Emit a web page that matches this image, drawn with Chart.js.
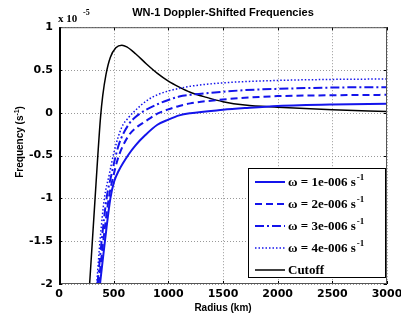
<!DOCTYPE html>
<html>
<head>
<meta charset="utf-8">
<script src="https://cdn.jsdelivr.net/npm/chart.js@4.4.0/dist/chart.umd.min.js"></script>
<style>
  html, body { margin: 0; padding: 0; background: #fff; }
</style>
</head>
<body>
<canvas id="chart-area" width="401" height="320"></canvas>
<script>
// values are in units of 1e-5 s^-1, radius in km
var xTicks = [0, 500, 1000, 1500, 2000, 2500, 3000];
var yTicks = [-2, -1.5, -1, -0.5, 0, 0.5, 1];

var r1 = [375, 420, 470, 505, 545, 635, 700, 790, 900, 1000, 1100, 1200, 1500, 1700, 2000, 2500, 3000];
var w1 = [-2.0, -1.5, -1.0, -0.8, -0.68, -0.49, -0.38, -0.26, -0.14, -0.08, -0.03, -0.005, 0.035, 0.055, 0.08, 0.098, 0.105];

var r2 = [362, 405, 455, 495, 545, 635, 700, 790, 900, 1000, 1100, 1200, 1500, 1700, 2000, 2500, 3000];
var w2 = [-2.0, -1.5, -1.0, -0.75, -0.51, -0.27, -0.18, -0.1, -0.01, 0.04, 0.08, 0.11, 0.155, 0.175, 0.195, 0.205, 0.21];

var r3 = [352, 390, 435, 480, 545, 635, 700, 790, 900, 1000, 1100, 1200, 1500, 1700, 2000, 2500, 3000];
var w3 = [-2.0, -1.5, -1.0, -0.72, -0.38, -0.14, -0.05, 0.03, 0.1, 0.15, 0.19, 0.21, 0.245, 0.265, 0.28, 0.295, 0.30];

var r4 = [345, 375, 415, 460, 505, 570, 640, 700, 800, 900, 1000, 1100, 1200, 1500, 2000, 2500, 3000];
var w4 = [-2.0, -1.5, -1.0, -0.72, -0.45, -0.18, -0.05, 0.03, 0.14, 0.21, 0.255, 0.285, 0.31, 0.35, 0.378, 0.39, 0.395];

var rCut = [280, 300, 330, 355, 380, 400, 430, 470, 520, 575, 620, 700, 800, 900, 1000, 1100, 1200, 1350, 1500, 1700, 2000, 2500, 3000];
var cutoff = [-2.0, -1.6, -1.0, -0.5, -0.05, 0.2, 0.45, 0.65, 0.76, 0.79, 0.77, 0.69, 0.57, 0.46, 0.37, 0.30, 0.24, 0.18, 0.13, 0.09, 0.065, 0.035, 0.015];

var SUP = '\u207b\u00b9';
var labels = ['\u03c9 = 1e-006 s' + SUP, '\u03c9 = 2e-006 s' + SUP, '\u03c9 = 3e-006 s' + SUP, '\u03c9 = 4e-006 s' + SUP, 'Cutoff'];

function pts(xs, ys) {
	return xs.map(function(x, i) { return { x: x, y: ys[i] }; });
}

var BLUE = 'rgb(20,20,235)';
var tickFont = { family: 'DejaVu Sans', size: 11, weight: 'bold' };

function line(label, data, color, width, dash) {
	return {
		label: label,
		data: data,
		borderColor: color,
		borderWidth: width,
		borderDash: dash,
		pointRadius: 0,
		fill: false,
		cubicInterpolationMode: 'monotone'
	};
}

// draws text, turning a trailing "⁻¹" into a raised small "-1"
function supText(ctx, text, x, y, size, family) {
	var main = text, sup = '';
	if (text.slice(-2) === SUP) { main = text.slice(0, -2); sup = '-1'; }
	ctx.font = 'bold ' + size + 'px ' + family;
	ctx.fillText(main, x, y);
	if (sup) {
		var w = ctx.measureText(main).width;
		ctx.font = 'bold ' + Math.round(size * 0.7) + 'px ' + family;
		ctx.fillText(sup, x + w + 1, y - size * 0.4);
	}
}

var overlay = {
	id: 'overlay',
	beforeDatasetsDraw: function(chart) {
		var ctx = chart.ctx, a = chart.chartArea, sx = chart.scales.x, sy = chart.scales.y;
		ctx.save();
		ctx.strokeStyle = '#999';
		ctx.lineWidth = 1;
		ctx.setLineDash([1, 2]);
		ctx.beginPath();
		sx.ticks.forEach(function(t) {
			var p = Math.round(sx.getPixelForValue(t.value)) + 0.5;
			ctx.moveTo(p, a.top); ctx.lineTo(p, a.bottom);
		});
		sy.ticks.forEach(function(t) {
			var p = Math.round(sy.getPixelForValue(t.value)) + 0.5;
			ctx.moveTo(a.left, p); ctx.lineTo(a.right, p);
		});
		ctx.stroke();
		ctx.restore();
	},
	afterDraw: function(chart) {
		var ctx = chart.ctx, a = chart.chartArea, sx = chart.scales.x, sy = chart.scales.y;
		ctx.save();
		// inward tick marks
		ctx.strokeStyle = '#000';
		ctx.lineWidth = 1;
		ctx.beginPath();
		sx.ticks.forEach(function(t) {
			var p = Math.round(sx.getPixelForValue(t.value)) + 0.5;
			ctx.moveTo(p, a.bottom); ctx.lineTo(p, a.bottom - 3);
			ctx.moveTo(p, a.top); ctx.lineTo(p, a.top + 3);
		});
		sy.ticks.forEach(function(t) {
			var p = Math.round(sy.getPixelForValue(t.value)) + 0.5;
			ctx.moveTo(a.left, p); ctx.lineTo(a.left + 3, p);
			ctx.moveTo(a.right, p); ctx.lineTo(a.right - 3, p);
		});
		ctx.stroke();
		// axes box
		ctx.strokeStyle = '#555';
		ctx.strokeRect(a.left + 0.5, a.top + 0.5, a.right - a.left - 1, a.bottom - a.top - 1);
		ctx.strokeStyle = '#000';
		ctx.lineWidth = 2;
		ctx.beginPath();
		ctx.moveTo(a.left + 1, a.top); ctx.lineTo(a.left + 1, a.bottom);
		ctx.stroke();

		// exponent
		ctx.fillStyle = '#000';
		ctx.textBaseline = 'alphabetic';
		ctx.textAlign = 'left';
		ctx.font = 'bold 11px "Liberation Serif"';
		ctx.fillText('x 10', 58, 22);
		ctx.font = 'bold 8px "Liberation Serif"';
		ctx.fillText('-5', 83, 15);

		// y title
		ctx.save();
		ctx.translate(23, 142);
		ctx.rotate(-Math.PI / 2);
		ctx.textAlign = 'left';
		ctx.textBaseline = 'alphabetic';
		ctx.font = 'bold 10px "Liberation Sans"';
		var tw = ctx.measureText('Frequency (s)').width + 6;
		ctx.fillText('Frequency (s', -tw / 2, 0);
		var w0 = ctx.measureText('Frequency (s').width;
		ctx.font = 'bold 7px "Liberation Sans"';
		ctx.fillText('-1', -tw / 2 + w0, -4);
		ctx.font = 'bold 10px "Liberation Sans"';
		ctx.fillText(')', -tw / 2 + w0 + 6, 0);
		ctx.restore();

		// legend box
		var lx = 248, ly = 168, lw = 137, lh = 109;
		ctx.fillStyle = '#fff';
		ctx.fillRect(lx, ly, lw, lh);
		ctx.strokeStyle = '#000';
		ctx.lineWidth = 1;
		ctx.strokeRect(lx + 0.5, ly + 0.5, lw, lh);
		ctx.textBaseline = 'middle';
		ctx.textAlign = 'left';
		chart.data.datasets.forEach(function(ds, i) {
			var y = ly + 14 + i * 22;
			ctx.setLineDash(ds.borderDash || []);
			ctx.strokeStyle = ds.borderColor;
			ctx.lineWidth = ds.borderWidth;
			ctx.beginPath();
			ctx.moveTo(lx + 7, y); ctx.lineTo(lx + 37, y);
			ctx.stroke();
			ctx.setLineDash([]);
			ctx.fillStyle = '#000';
			supText(ctx, ds.label, lx + 40, y + 1, 13, '"Liberation Serif"');
		});
		ctx.restore();
	}
};

new Chart(document.getElementById('chart-area'), {
	type: 'line',
	data: {
		datasets: [
			line(labels[0], pts(r1, w1), BLUE, 2, []),
			line(labels[1], pts(r2, w2), BLUE, 2, [7, 4]),
			line(labels[2], pts(r3, w3), BLUE, 2, [9, 3, 2, 3]),
			line(labels[3], pts(r4, w4), BLUE, 1.5, [1.5, 2]),
			line(labels[4], pts(rCut, cutoff), '#000', 1.5, [])
		]
	},
	options: {
		responsive: false,
		animation: false,
		layout: { padding: { right: 14 } },
		plugins: {
			legend: { display: false },
			tooltip: { enabled: false },
			title: {
				display: true,
				fullSize: false,
				text: 'WN-1 Doppler-Shifted Frequencies',
				color: '#000',
				font: { family: 'Liberation Sans', size: 11, weight: 'bold' },
				padding: { top: 6, bottom: 8 }
			}
		},
		scales: {
			x: {
				type: 'linear',
				min: 0,
				max: 3000,
				afterBuildTicks: function(s) { s.ticks = xTicks.map(function(v) { return { value: v }; }); },
				afterFit: function(s) { s.height = 36; s.paddingLeft = 0; s.paddingRight = 0; },
				ticks: { color: '#000', font: tickFont, padding: 4, maxRotation: 0, autoSkip: false,
					callback: function(v) { return String(v); } },
				grid: { display: false, drawTicks: false },
				border: { display: false },
				title: { display: true, text: 'Radius (km)', color: '#000',
					font: { family: 'Liberation Sans', size: 10, weight: 'bold' }, padding: { top: 0, bottom: 6 } }
			},
			y: {
				type: 'linear',
				min: -2,
				max: 1,
				afterBuildTicks: function(s) { s.ticks = yTicks.map(function(v) { return { value: v }; }); },
				afterFit: function(s) { s.width = 59; s.paddingTop = 0; s.paddingBottom = 0; },
				ticks: { color: '#000', font: tickFont, padding: 6,
					callback: function(v) { return String(v); } },
				grid: { display: false, drawTicks: false },
				border: { display: false }
			}
		}
	},
	plugins: [overlay]
});
</script>
</body>
</html>
